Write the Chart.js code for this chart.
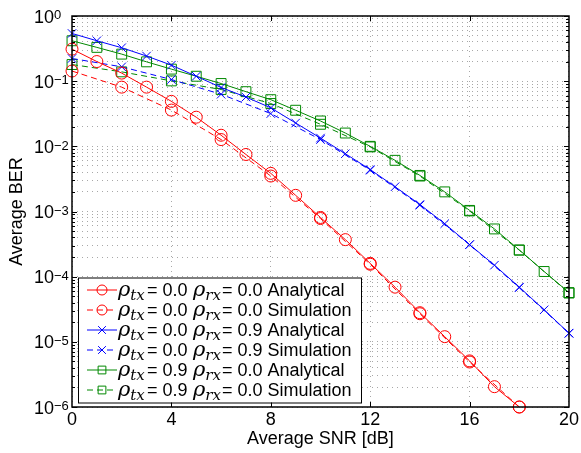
<!DOCTYPE html>
<html>
<head>
<meta charset="utf-8">
<script src="https://cdn.jsdelivr.net/npm/chart.js@4.4.1/dist/chart.umd.min.js"></script>
<style>
    html, body { margin: 0; padding: 0; background: #fff; }
</style>
</head>
<body>
<canvas id="graph" width="581" height="453"></canvas>
<script>
// SNR points [dB]
const snrAll = [0, 1, 2, 3, 4, 5, 6, 7, 8, 9, 10, 11, 12, 13, 14, 15, 16, 17, 18, 19, 20];
const snrEven = [0, 2, 4, 6, 8, 10, 12, 14, 16, 18, 20];

// rho_tx = 0.0, rho_rx = 0.0
const berRedAnalytical = [0.31, 0.20, 0.133, 0.081, 0.049, 0.028, 0.0148, 0.0075, 0.00385, 0.00177,
    8.1e-4, 3.7e-4, 1.6e-4, 6.9e-5, 2.8e-5, 1.2e-5, 5.1e-6, 2.05e-6, 1.0e-6];
const berRedSimulation = [0.143, 0.081, 0.036, 0.0127, 0.0035, 7.8e-4, 1.55e-4, 2.7e-5, 4.9e-6, 1.0e-6];

// rho_tx = 0.0, rho_rx = 0.9
const berBlueAnalytical = [0.54, 0.417, 0.326, 0.243, 0.176, 0.119, 0.08, 0.057, 0.039, 0.0228,
    0.0134, 0.0077, 0.0044, 0.0024, 0.00128, 6.5e-4, 3.1e-4, 1.5e-4, 6.9e-5, 3.1e-5, 1.36e-5];
const berBlueSimulation = [0.223, 0.166, 0.106, 0.063, 0.0318, 0.0127, 0.0043, 0.00125, 3.1e-4, 6.8e-5, 1.35e-5];

// rho_tx = 0.9, rho_rx = 0.0
const berGreenAnalytical = [0.417, 0.33, 0.26, 0.198, 0.153, 0.119, 0.092, 0.069, 0.052, 0.0358,
    0.0245, 0.016, 0.01, 0.0061, 0.00358, 0.002, 0.00104, 5.4e-4, 2.57e-4, 1.2e-4, 5.7e-5];
const berGreenSimulation = [0.18, 0.139, 0.101, 0.0745, 0.0454, 0.0218, 0.0098, 0.0035, 0.00102, 2.55e-4, 5.6e-5];

const legendTx = ['0.0', '0.0', '0.0', '0.0', '0.9', '0.9'];
const legendRx = ['0.0', '0.0', '0.9', '0.9', '0.0', '0.0'];
const legendKind = ['Analytical', 'Simulation', 'Analytical', 'Simulation', 'Analytical', 'Simulation'];

const xTickStep = 4;
const yExponents = [-6, -5, -4, -3, -2, -1, 0];

const RED = '#ff0000';
const BLUE = '#0000ff';
const GREEN = '#008800';
const SANS = '"Liberation Sans", Arial, sans-serif';
const MATH = '"DejaVu Serif", serif';

function points(xs, ys) {
    return ys.map((y, i) => ({ x: xs[i], y: y }));
}

function series(label, xs, ys, color, style, dashed) {
    const r = style === 'circle' ? 6 : (style === 'rect' ? 7 : 6);
    return {
        label: label,
        data: points(xs, ys),
        borderColor: color,
        borderWidth: 1,
        borderDash: dashed ? [6, 4] : [],
        pointStyle: style,
        pointRadius: r,
        pointHoverRadius: r,
        pointBorderColor: color,
        pointBackgroundColor: 'rgba(0,0,0,0)',
        pointBorderWidth: 1,
        fill: false,
        tension: 0,
        clip: 10
    };
}

function isPow10(v) {
    const l = Math.log10(v);
    return Math.abs(l - Math.round(l)) < 1e-9;
}

const overlay = {
    id: 'overlay',
    afterDatasetsDraw(chart) {
        const ctx = chart.ctx;
        const area = chart.chartArea;
        const xs = chart.scales.x;
        const ys = chart.scales.y;

        ctx.save();
        ctx.strokeStyle = '#000';
        ctx.lineWidth = 1;

        // inward ticks, like matlab
        for (let v = xTickStep; v < 20; v += xTickStep) {
            const px = Math.round(xs.getPixelForValue(v)) + 0.5;
            ctx.beginPath();
            ctx.moveTo(px, area.bottom); ctx.lineTo(px, area.bottom - 5);
            ctx.moveTo(px, area.top); ctx.lineTo(px, area.top + 5);
            ctx.stroke();
        }
        for (const t of ys.ticks) {
            const py = Math.round(ys.getPixelForValue(t.value)) + 0.5;
            const len = isPow10(t.value) ? 5 : 3;
            ctx.beginPath();
            ctx.moveTo(area.left, py); ctx.lineTo(area.left + len, py);
            ctx.moveTo(area.right, py); ctx.lineTo(area.right - len, py);
            ctx.stroke();
        }

        ctx.lineWidth = 1.5;
        ctx.strokeRect(area.left, area.top, area.right - area.left, area.bottom - area.top);

        // y tick labels 10^k
        ctx.fillStyle = '#000';
        ctx.textAlign = 'left';
        ctx.textBaseline = 'alphabetic';
        for (const e of yExponents) {
            const py = ys.getPixelForValue(Math.pow(10, e));
            ctx.font = '18px ' + SANS;
            ctx.fillText('10', 34, py + 6.5);
            const w10 = ctx.measureText('10').width;
            ctx.font = '13px ' + SANS;
            ctx.fillText(e === 0 ? '0' : '\u2212' + (-e), 34 + w10, py + 3.3);
        }
        ctx.restore();
    },
    afterDraw(chart) {
        const ctx = chart.ctx;
        const area = chart.chartArea;
        const x0 = area.left + 6;
        const h = 125;
        const y0 = area.bottom - 4.5 - h;
        const w = 283;

        ctx.save();
        ctx.fillStyle = '#fff';
        ctx.fillRect(x0, y0, w, h);
        ctx.strokeStyle = '#000';
        ctx.lineWidth = 1;
        ctx.strokeRect(x0 + 0.5, y0 + 0.5, w, h);

        chart.data.datasets.forEach((ds, i) => {
            const cy = y0 + 12.5 + i * 20;
            ctx.strokeStyle = ds.borderColor;
            ctx.lineWidth = 1;
            ctx.setLineDash(ds.borderDash);
            ctx.beginPath();
            ctx.moveTo(x0 + 9, cy); ctx.lineTo(x0 + 39, cy);
            ctx.stroke();
            ctx.setLineDash([]);
            ctx.fillStyle = 'rgba(0,0,0,0)';
            Chart.helpers.drawPoint(ctx, {
                pointStyle: ds.pointStyle,
                radius: ds.pointStyle === 'circle' ? 5 : 5.5,
                borderWidth: 1,
                rotation: 0
            }, x0 + 24, cy);

            ctx.fillStyle = '#000';
            ctx.textAlign = 'left';
            ctx.textBaseline = 'alphabetic';
            const base = cy + 6;
            let tx = 0;
            const put = (str, font, dy) => {
                ctx.font = font;
                ctx.fillText(str, tx, base + dy);
                tx += ctx.measureText(str).width;
            };
            tx = x0 + 40;
            put('\u03c1', 'italic 21px ' + MATH, 0);
            put('tx', 'italic 15px ' + MATH, 4);
            tx = Math.max(tx + 1, x0 + 69);
            put('= ' + legendTx[i] + ' ', '18px ' + SANS, 0);
            tx = Math.max(tx, x0 + 115);
            put('\u03c1', 'italic 21px ' + MATH, 0);
            put('rx', 'italic 15px ' + MATH, 4);
            tx += 1;
            put('= ' + legendRx[i] + ' ' + legendKind[i], '18px ' + SANS, 0);
        });
        ctx.restore();
    }
};

function label(i) {
    return '\u03c1tx= ' + legendTx[i] + ' \u03c1rx= ' + legendRx[i] + ' ' + legendKind[i];
}

const chart = new Chart(document.getElementById('graph'), {
    type: 'line',
    data: {
        datasets: [
            series(label(0), snrAll, berRedAnalytical, RED, 'circle', false),
            series(label(1), snrEven, berRedSimulation, RED, 'circle', true),
            series(label(2), snrAll, berBlueAnalytical, BLUE, 'crossRot', false),
            series(label(3), snrEven, berBlueSimulation, BLUE, 'crossRot', true),
            series(label(4), snrAll, berGreenAnalytical, GREEN, 'rect', false),
            series(label(5), snrEven, berGreenSimulation, GREEN, 'rect', true)
        ]
    },
    options: {
        responsive: false,
        animation: false,
        layout: { padding: { left: 0, right: 11, top: 16, bottom: 0 } },
        plugins: {
            legend: { display: false },
            tooltip: { enabled: false }
        },
        scales: {
            x: {
                type: 'linear',
                min: 0,
                max: 20,
                ticks: {
                    stepSize: xTickStep,
                    color: '#000',
                    padding: 2,
                    font: { family: SANS, size: 18 }
                },
                grid: {
                    color: '#a8a8a8',
                    lineWidth: 1,
                    drawTicks: false
                },
                border: { display: false, dash: [1, 4] },
                title: {
                    display: true,
                    text: 'Average SNR [dB]',
                    color: '#000',
                    font: { family: SANS, size: 18 },
                    padding: { top: 0, bottom: 3 }
                },
                afterFit: scale => { scale.height = 46; }
            },
            y: {
                type: 'logarithmic',
                min: 1e-6,
                max: 1,
                afterBuildTicks: scale => {
                    const ticks = [];
                    for (let e = -6; e < 0; e++) {
                        for (let m = 1; m <= 9; m++) {
                            ticks.push({ value: m * Math.pow(10, e) });
                        }
                    }
                    ticks.push({ value: 1 });
                    scale.ticks = ticks;
                },
                ticks: { display: false, autoSkip: false },
                grid: {
                    color: '#a8a8a8',
                    lineWidth: 1,
                    drawTicks: false
                },
                border: { display: false, dash: [1, 4] },
                title: {
                    display: true,
                    text: 'Average BER',
                    color: '#000',
                    font: { family: SANS, size: 18 },
                    padding: { top: 6, bottom: 0 }
                },
                afterFit: scale => { scale.width = 72; }
            }
        }
    },
    plugins: [overlay]
});
</script>
</body>
</html>
